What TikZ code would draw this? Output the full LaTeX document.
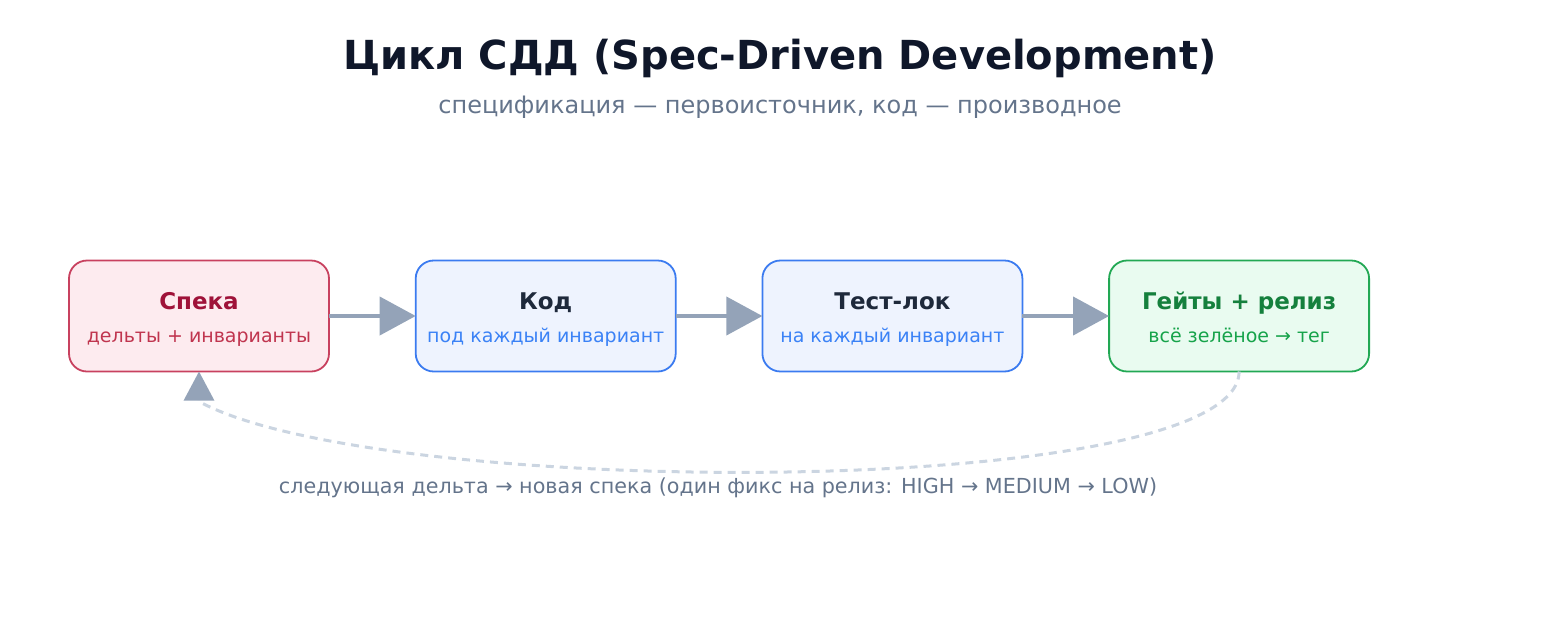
\documentclass[tikz,border=0pt]{standalone}
\usepackage{fontspec}
\setmainfont{DejaVu Sans}
\usetikzlibrary{arrows.meta,positioning}

\definecolor{inkdark}{HTML}{0F172A}
\definecolor{inkmuted}{HTML}{64748B}
\definecolor{arrowgray}{HTML}{94A3B8}
\definecolor{dashgray}{HTML}{CBD5E1}
\definecolor{specfill}{HTML}{FDEBEF}
\definecolor{specdraw}{HTML}{C8415F}
\definecolor{spectitle}{HTML}{9F1239}
\definecolor{spectext}{HTML}{C0354F}
\definecolor{codefill}{HTML}{EEF3FE}
\definecolor{codedraw}{HTML}{3B7BF0}
\definecolor{codetitle}{HTML}{1E293B}
\definecolor{codetext}{HTML}{3B82F6}
\definecolor{gatefill}{HTML}{E9FBF0}
\definecolor{gatedraw}{HTML}{22A854}
\definecolor{gatetitle}{HTML}{15803D}
\definecolor{gatetext}{HTML}{16A34A}

\newcommand{\boxhead}[1]{{\fontsize{23}{33}\selectfont\bfseries\rule{0pt}{26pt}#1}}
\newcommand{\boxnote}[1]{\rule[-6pt]{0pt}{6pt}#1}

\begin{document}
\begin{tikzpicture}[
    x=1pt, y=1pt,
    node distance=86.7pt,
    box/.style={draw, line width=1.8pt, rounded corners=18pt, align=center, outer sep=0pt,
        minimum width=260pt, minimum height=111pt, inner sep=0pt,
        font=\fontsize{19}{33}\selectfont},
    flow/.style={-{Triangle[length=36pt, width=38pt]}, line width=4pt, draw=arrowgray},
    feedback/.style={-{Triangle[length=29pt, width=30pt, color=arrowgray]}, line width=3pt,
        draw=dashgray, dash pattern=on 8pt off 6pt}
]
\useasboundingbox (0,0) rectangle (1560,-624);
\node[font=\fontsize{40}{44}\selectfont\bfseries, text=inkdark] (title) at (780,-58.5) {Цикл СДД (Spec-Driven Development)};
\node[font=\fontsize{24}{28}\selectfont, text=inkmuted] (subtitle) at (780,-107.5) {спецификация — первоисточник, код — производное};

\node[box, fill=specfill, draw=specdraw] (spec) at (199,-316)
    {\color{spectitle}\boxhead{Спека}\\\color{spectext}\boxnote{дельты + инварианты}};
\node[box, fill=codefill, draw=codedraw, right=of spec] (code)
    {\color{codetitle}\boxhead{Код}\\\color{codetext}\boxnote{под каждый инвариант}};
\node[box, fill=codefill, draw=codedraw, right=of code] (testlock)
    {\color{codetitle}\boxhead{Тест-лок}\\\color{codetext}\boxnote{на каждый инвариант}};
\node[box, fill=gatefill, draw=gatedraw, right=of testlock] (gates)
    {\color{gatetitle}\boxhead{Гейты + релиз}\\\color{gatetext}\boxnote{всё зелёное → тег}};

\draw[flow] (spec) -- (code);
\draw[flow] (code) -- (testlock);
\draw[flow] (testlock) -- (gates);
% loop back to the spec
\draw[feedback] (gates.south) .. controls +(0,-129) and +(181,-99) .. ([yshift=-30pt]spec.south) -- (spec.south);

\node[font=\fontsize{20.7}{24}\selectfont, text=inkmuted] (nextdelta) at (718,-488) {следующая дельта → новая спека (один фикс на релиз: HIGH → MEDIUM → LOW)};
\end{tikzpicture}
\end{document}
